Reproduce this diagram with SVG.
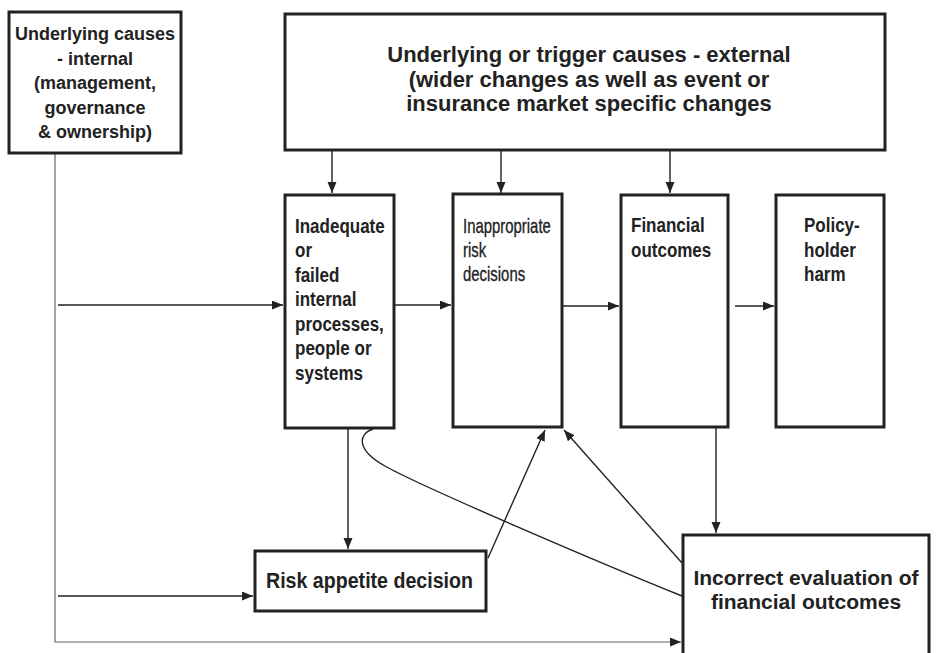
<svg xmlns="http://www.w3.org/2000/svg" width="937" height="653" viewBox="0 0 937 653">
  <style>
    .box { fill: #fff; stroke: #222; stroke-width: 3; }
    .t { font-family: "Liberation Sans", Arial, sans-serif; font-weight: bold; fill: #222; }
    .tr { font-family: "Liberation Sans", Arial, sans-serif; font-weight: normal; fill: #222; stroke: #222; stroke-width: 0.35; }
    .edge { fill: none; stroke: #222; stroke-width: 1.4; }
    .edge-g { fill: none; stroke: #666; stroke-width: 1.2; }
  </style>
  <defs>
    <marker id="arrow" markerUnits="userSpaceOnUse" markerWidth="12" markerHeight="10" refX="11" refY="4.5" orient="auto">
      <path d="M0,0 L11,4.5 L0,9 z" fill="#222"/>
    </marker>
  </defs>

  <rect width="937" height="653" fill="#fff"/>

  <!-- connectors -->
  <g id="connectors">
    <!-- internal causes trunk line -->
    <path class="edge-g" d="M55,153 L55,642 L681,642" marker-end="url(#arrow)"/>
    <line class="edge" x1="58" y1="305" x2="283" y2="305" marker-end="url(#arrow)"/>
    <line class="edge" x1="58" y1="596" x2="253" y2="596" marker-end="url(#arrow)"/>
    <!-- external causes down into the chain -->
    <line class="edge" x1="332" y1="151" x2="332" y2="193" marker-end="url(#arrow)"/>
    <line class="edge" x1="501" y1="151" x2="501" y2="193" marker-end="url(#arrow)"/>
    <line class="edge" x1="670" y1="151" x2="670" y2="193" marker-end="url(#arrow)"/>
    <!-- main chain -->
    <line class="edge" x1="394" y1="305" x2="451" y2="305" marker-end="url(#arrow)"/>
    <line class="edge" x1="563" y1="306" x2="619" y2="306" marker-end="url(#arrow)"/>
    <line class="edge" x1="735" y1="306" x2="774" y2="306" marker-end="url(#arrow)"/>
    <!-- lower links -->
    <line class="edge" x1="348" y1="425" x2="348" y2="549" marker-end="url(#arrow)"/>
    <line class="edge" x1="488" y1="558" x2="545" y2="430" marker-end="url(#arrow)"/>
    <line class="edge" x1="682" y1="563" x2="564" y2="430" marker-end="url(#arrow)"/>
    <line class="edge" x1="716" y1="428" x2="716" y2="533" marker-end="url(#arrow)"/>
    <path class="edge" d="M373,429 C358,434 356,450 385,466 C420,486 600,563 682,596"/>
  </g>

  <!-- nodes -->
  <g id="internal-causes">
    <rect class="box" x="9" y="12" width="172" height="141"/>
    <g class="t" font-size="18" text-anchor="middle">
      <text x="95" y="40">Underlying causes</text>
      <text x="95" y="64.5">- internal</text>
      <text x="95" y="89">(management,</text>
      <text x="95" y="113.5">governance</text>
      <text x="95" y="138">&amp; ownership)</text>
    </g>
  </g>

  <g id="external-causes">
    <rect class="box" x="285" y="14" width="600" height="136"/>
    <g class="t" font-size="22" text-anchor="middle">
      <text x="589" y="62">Underlying or trigger causes - external</text>
      <text x="589" y="87">(wider changes as well as event or</text>
      <text x="589" y="111">insurance market specific changes</text>
    </g>
  </g>

  <g id="failed-processes">
    <rect class="box" x="285" y="195" width="109" height="233"/>
    <g class="t" font-size="21" transform="translate(295,0) scale(0.81,1)">
      <text x="0" y="233">Inadequate</text>
      <text x="0" y="257.5">or</text>
      <text x="0" y="282">failed</text>
      <text x="0" y="306.5">internal</text>
      <text x="0" y="331">processes,</text>
      <text x="0" y="355.5">people or</text>
      <text x="0" y="380">systems</text>
    </g>
  </g>

  <g id="risk-decisions">
    <rect class="box" x="453" y="194" width="109" height="233"/>
    <g class="tr" font-size="21" transform="translate(463,0) scale(0.71,1)">
      <text x="0" y="233">Inappropriate</text>
      <text x="0" y="257">risk</text>
      <text x="0" y="281">decisions</text>
    </g>
  </g>

  <g id="financial-outcomes">
    <rect class="box" x="621" y="195" width="107" height="232"/>
    <g class="t" font-size="21" transform="translate(631,0) scale(0.81,1)">
      <text x="0" y="232">Financial</text>
      <text x="0" y="257">outcomes</text>
    </g>
  </g>

  <g id="policyholder-harm">
    <rect class="box" x="776" y="195" width="108" height="232"/>
    <g class="t" font-size="21" transform="translate(804,0) scale(0.81,1)">
      <text x="0" y="232">Policy-</text>
      <text x="0" y="257">holder</text>
      <text x="0" y="281">harm</text>
    </g>
  </g>

  <g id="risk-appetite">
    <rect class="box" x="255" y="551" width="231" height="60"/>
    <text class="t" font-size="22" x="266" y="588" textLength="207" lengthAdjust="spacingAndGlyphs">Risk appetite decision</text>
  </g>

  <g id="incorrect-evaluation">
    <rect class="box" x="683" y="535" width="246" height="140"/>
    <g class="t" font-size="21" text-anchor="middle">
      <text x="806" y="585">Incorrect evaluation of</text>
      <text x="806" y="609">financial outcomes</text>
    </g>
  </g>
</svg>
